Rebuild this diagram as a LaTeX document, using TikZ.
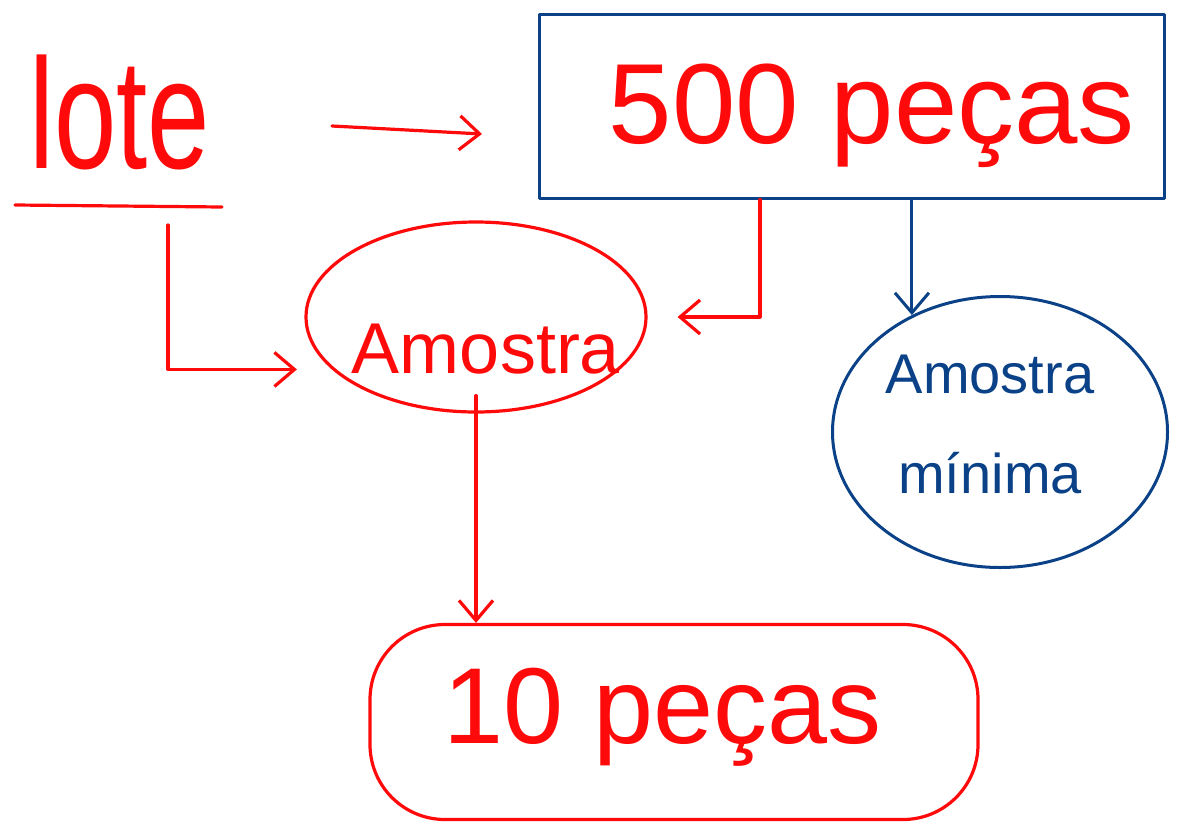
\documentclass[tikz,border=0pt]{standalone}
\usepackage{fontspec}
\setmainfont{Liberation Sans}
\usetikzlibrary{shapes.geometric,arrows.meta}
\definecolor{penred}{RGB}{255,10,10}
\definecolor{penblue}{RGB}{10,65,135}
\tikzset{
  redline/.style={draw=penred,line width=3.2pt,line cap=round,line join=round},
  blueline/.style={draw=penblue,line width=3pt,line cap=round,line join=round},
  arr/.style={-{Straight Barb[length=20pt,width=34pt]}},
  redtxt/.style={text=penred,inner sep=0pt},
  bluetxt/.style={text=penblue,inner sep=0pt},
}
\begin{document}
\begin{tikzpicture}[x=1pt,y=-1pt]
\useasboundingbox (0,0) rectangle (1177,822);
% lote
\node[redtxt,font=\fontsize{112}{112}\selectfont] (lote) at (120,112) {\scalebox{1}[1.4]{lote}};
\coordinate (u1) at (15,205);
\coordinate (u2) at (222,207);
\draw[redline] (u1) -- (u2);
% 500 pecas box
\node[blueline,minimum width=625pt,minimum height=184pt,
      label={[redtxt,xshift=20pt,yshift=-10pt,font=\fontsize{114}{114}\selectfont]center:500 peças}] (box) at (852,106) {};
% Amostra
\node[redline,ellipse,minimum width=340pt,minimum height=190pt,
      label={[redtxt,xshift=10pt,yshift=-32pt,font=\fontsize{72}{72}\selectfont]center:Amostra}] (amostra) at (476,317) {};
% Amostra minima
\node[blueline,ellipse,minimum width=335pt,minimum height=271pt,
      label={[bluetxt,align=center,xshift=-10pt,yshift=7pt,font=\fontsize{56}{100}\selectfont]center:Amostra\\mínima}] (minima) at (1000,432) {};
% 10 pecas
\node[redline,rectangle,rounded corners=75pt,minimum width=608pt,minimum height=195pt,
      label={[redtxt,xshift=-11pt,yshift=5pt,font=\fontsize{108}{108}\selectfont]center:10 peças}] (dez) at (674,722) {};
% connectors
\coordinate (a0) at (332,126);
\coordinate (a1) at (482,134);
\draw[redline,arr] (a0) -- (a1);
\coordinate (l0) at (168,225);
\draw[redline,arr,shorten >=35pt] (l0) |- (amostra.200);
\draw[redline,arr,shorten >=30pt] ([xshift=-92pt]box.south) |- (amostra.east);
\draw[blueline,arr] (box.south -| minima.127) -- (minima.127);
\draw[redline,arr] ([yshift=18pt]amostra.south) -- (amostra.south |- dez.north);
\end{tikzpicture}
\end{document}
